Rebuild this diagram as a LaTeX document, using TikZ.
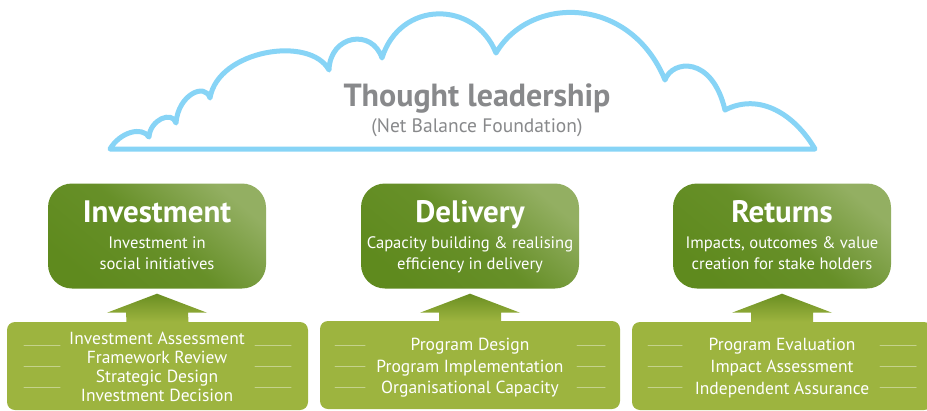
\documentclass[tikz,border=0pt]{standalone}
\usepackage{fontspec}
\setmainfont{PT Sans}
\usetikzlibrary{calc}
\definecolor{cloudblue}{HTML}{87D4F6}
\definecolor{titlegray}{HTML}{88898B}
\definecolor{darkgreen}{HTML}{5F8A1E}
\definecolor{lightgreen}{HTML}{93AF62}
\definecolor{listgreen}{HTML}{9DB43F}
\definecolor{arrowtop}{HTML}{6A8E22}
\tikzset{
  topbox/.style={rounded corners=24pt, minimum width=218pt, minimum height=105pt, inner sep=0pt,
    shading=axis, top color=lightgreen, bottom color=darkgreen, middle color=darkgreen!85!lightgreen, shading angle=-40},
  listbox/.style={rounded corners=8pt, fill=listgreen, minimum height=88pt, inner sep=0pt},
  ttl/.style={text=white, font=\fontsize{31}{34}\selectfont\bfseries, anchor=base, inner sep=0pt},
  sub/.style={text=white, font=\fontsize{16.6}{19}\selectfont, anchor=base, inner sep=0pt},
  item/.style={text=white, font=\fontsize{17.5}{20}\selectfont, anchor=base, inner sep=0pt},
  deco/.style={white, opacity=0.4, line width=1pt, line cap=round},
  uparrow/.style={shading=axis, top color=arrowtop, bottom color=listgreen}
}
\begin{document}
\begin{tikzpicture}[x=1pt,y=-1pt]
\useasboundingbox (0,0) rectangle (927,410);
% cloud
\draw[cloudblue, line width=5pt, line join=round, fill=white]
  (110,149) .. controls (120,132) and (142,126) .. (149,137)
  .. controls (150,120) and (172,110) .. (176,123)
  .. controls (178,95) and (205,82) .. (210,98)
  .. controls (218,50) and (310,35) .. (329,70)
  .. controls (330,35) and (372,28) .. (382,58)
  .. controls (400,0) and (475,0) .. (496,53)
  .. controls (530,-5) and (630,-5) .. (665,80)
  .. controls (672,60) and (712,55) .. (725,110)
  .. controls (760,92) and (795,115) .. (815,149)
  -- cycle;
\node[text=titlegray, font=\fontsize{32}{36}\selectfont\bfseries, anchor=base, inner sep=0pt] (tl) at (477,106) {Thought leadership};
\node[text=titlegray, font=\fontsize{19.5}{22}\selectfont, anchor=base, inner sep=0pt] (nb) at (477,132) {(Net Balance Foundation)};

% top boxes
\node[topbox] (inv) at (157,236) {};
\node[topbox] (del) at (470,236) {};
\node[topbox] (ret) at (782,236) {};
\node[ttl] (invT) at (157,222) {Investment};
\node[sub] (invS1) at (157,248) {Investment in};
\node[sub] (invS2) at (157,269) {social initiatives};
\node[ttl] (delT) at (470,222) {Delivery};
\node[sub] (delS1) at (470,248) {Capacity building \& realising};
\node[sub] (delS2) at (470,269) {efficiency in delivery};
\node[ttl] (retT) at (782,222) {Returns};
\node[sub] (retS1) at (782,248) {Impacts, outcomes \& value};
\node[sub] (retS2) at (782,269) {creation for stake holders};

% bottom boxes
\node[listbox, minimum width=301pt] (invL) at (157.5,366) {};
\node[listbox, minimum width=300pt] (delL) at (470,365) {};
\node[listbox, minimum width=300pt] (retL) at (782,366) {};

% arrows
\foreach \t/\b in {inv/invL, del/delL, ret/retL}{
  \path[uparrow] ($(\t.south)+(0,5)$) -- ($(\t.south)+(50,24)$) -- ($(\t.south)+(31,24)$)
    -- ($(\b.north)+(31,0)$) -- ($(\b.north)+(-31,0)$) -- ($(\t.south)+(-31,24)$)
    -- ($(\t.south)+(-50,24)$) -- cycle;
}

% decorative lines
\foreach \y in {345,366,387}{
  \draw[deco] (24,\y) -- (60,\y);
  \draw[deco] (255,\y) -- (291,\y);
  \draw[deco] (335,\y) -- (365,\y);
  \draw[deco] (577,\y) -- (605,\y);
  \draw[deco] (648,\y) -- (682,\y);
  \draw[deco] (880,\y) -- (916,\y);
}

% list texts
\node[item] (i1) at (157,344) {Investment Assessment};
\node[item] (i2) at (157,363) {Framework Review};
\node[item] (i3) at (157,382) {Strategic Design};
\node[item] (i4) at (157,401) {Investment Decision};
\node[item] (d1) at (470,350) {Program Design};
\node[item] (d2) at (470,372) {Program Implementation};
\node[item] (d3) at (470,393) {Organisational Capacity};
\node[item] (r1) at (782,350) {Program Evaluation};
\node[item] (r2) at (782,372) {Impact Assessment};
\node[item] (r3) at (782,394) {Independent Assurance};
\end{tikzpicture}
\end{document}
